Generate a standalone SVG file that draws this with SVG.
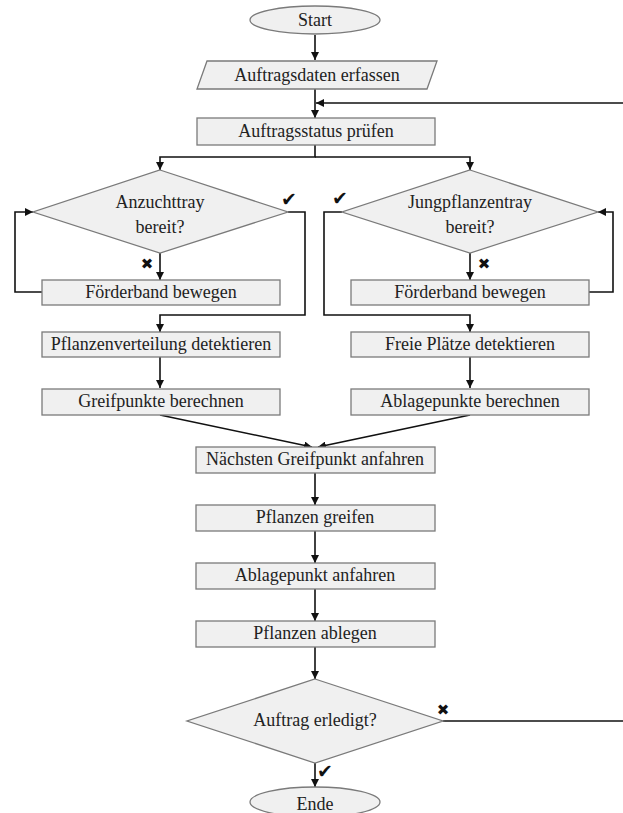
<svg xmlns="http://www.w3.org/2000/svg" width="623" height="813" viewBox="0 0 623 813">
<style>
.s{fill:#f0f0f0;stroke:#7a7a7a;stroke-width:1.3}
.t{font-family:"Liberation Serif","Times New Roman",serif;font-size:18px;fill:#222;text-anchor:middle;dominant-baseline:central}
.c{fill:none;stroke:#111;stroke-width:1.6}
.m{font-family:"DejaVu Sans",sans-serif;font-size:15px;fill:#111;text-anchor:middle;dominant-baseline:central}
.k{font-size:19px}
</style>
<defs>
<marker id="a" viewBox="0 0 10 10" refX="10" refY="5" markerWidth="8" markerHeight="8" markerUnits="userSpaceOnUse" orient="auto"><path d="M0,0 L10,5 L0,10 z" fill="#111"/></marker>
</defs>
<g id="connectors">
<path class="c" d="M315,35 V60" marker-end="url(#a)"/>
<path class="c" d="M315,89 V118" marker-end="url(#a)"/>
<path class="c" d="M630,103 H316" marker-end="url(#a)"/>
<path class="c" d="M315,145 V157 H160 V170" marker-end="url(#a)"/>
<path class="c" d="M315,157 H470 V170" marker-end="url(#a)"/>
<path class="c" d="M160,253 V280" marker-end="url(#a)"/>
<path class="c" d="M42,292 H15 V212 H33" marker-end="url(#a)"/>
<path class="c" d="M288,212 H305 V315 H160 V332" marker-end="url(#a)"/>
<path class="c" d="M470,253 V280" marker-end="url(#a)"/>
<path class="c" d="M589,292 H613 V212 H598" marker-end="url(#a)"/>
<path class="c" d="M342,212 H324 V315 H470 V332" marker-end="url(#a)"/>
<path class="c" d="M160,357 V388" marker-end="url(#a)"/>
<path class="c" d="M470,357 V388" marker-end="url(#a)"/>
<path class="c" d="M160,415 L312,447" marker-end="url(#a)"/>
<path class="c" d="M470,415 L318,447" marker-end="url(#a)"/>
<path class="c" d="M315,473 V505" marker-end="url(#a)"/>
<path class="c" d="M315,531 V563" marker-end="url(#a)"/>
<path class="c" d="M315,589 V621" marker-end="url(#a)"/>
<path class="c" d="M315,647 V679" marker-end="url(#a)"/>
<path class="c" d="M443,721 H630"/>
<path class="c" d="M315,763 V787" marker-end="url(#a)"/>
<text class="m k" x="289" y="199">✔</text>
<text class="m" x="147" y="264">✖</text>
<text class="m k" x="340" y="198">✔</text>
<text class="m" x="484" y="264">✖</text>
<text class="m" x="443" y="710">✖</text>
<text class="m k" x="325" y="771">✔</text>
</g>
<g id="start"><ellipse class="s" cx="315" cy="20" rx="65" ry="14"/><text class="t" x="315" y="20">Start</text></g>
<g id="auftragsdaten"><polygon class="s" points="207,61 437,61 427,89 197,89"/><text class="t" x="317" y="75">Auftragsdaten erfassen</text></g>
<g id="auftragsstatus"><rect class="s" x="197" y="118" width="238" height="27"/><text class="t" x="316" y="131">Auftragsstatus prüfen</text></g>
<g id="anzucht"><polygon class="s" points="160,170 288,212 160,253 33,212"/><text class="t" x="160" y="202">Anzuchttray</text><text class="t" x="160" y="227">bereit?</text></g>
<g id="jung"><polygon class="s" points="470,170 598,212 470,253 342,212"/><text class="t" x="470" y="202">Jungpflanzentray</text><text class="t" x="470" y="227">bereit?</text></g>
<g id="foerder1"><rect class="s" x="42" y="280" width="238" height="25"/><text class="t" x="161" y="292">Förderband bewegen</text></g>
<g id="foerder2"><rect class="s" x="351" y="280" width="238" height="25"/><text class="t" x="470" y="292">Förderband bewegen</text></g>
<g id="pflanzenverteilung"><rect class="s" x="42" y="332" width="238" height="25"/><text class="t" x="161" y="344">Pflanzenverteilung detektieren</text></g>
<g id="freie"><rect class="s" x="351" y="332" width="238" height="25"/><text class="t" x="470" y="344">Freie Plätze detektieren</text></g>
<g id="greifpunkte"><rect class="s" x="42" y="389" width="238" height="26"/><text class="t" x="161" y="401">Greifpunkte berechnen</text></g>
<g id="ablagepunkte"><rect class="s" x="351" y="389" width="238" height="26"/><text class="t" x="470" y="401">Ablagepunkte berechnen</text></g>
<g id="naechsten"><rect class="s" x="196" y="447" width="239" height="26"/><text class="t" x="315" y="459">Nächsten Greifpunkt anfahren</text></g>
<g id="greifen"><rect class="s" x="196" y="505" width="239" height="26"/><text class="t" x="315" y="517">Pflanzen greifen</text></g>
<g id="ablagepunkt"><rect class="s" x="196" y="563" width="239" height="26"/><text class="t" x="315" y="575">Ablagepunkt anfahren</text></g>
<g id="ablegen"><rect class="s" x="196" y="621" width="239" height="26"/><text class="t" x="315" y="633">Pflanzen ablegen</text></g>
<g id="erledigt"><polygon class="s" points="315,679 443,721 315,763 187,721"/><text class="t" x="315" y="720">Auftrag erledigt?</text></g>
<g id="ende"><ellipse class="s" cx="315" cy="802" rx="65" ry="15"/><text class="t" x="315" y="804">Ende</text></g>
</svg>
